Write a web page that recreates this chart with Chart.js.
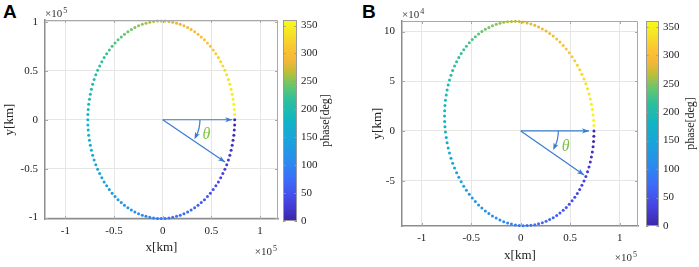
<!DOCTYPE html>
<html>
<head>
<meta charset="utf-8">
<script src="https://cdn.jsdelivr.net/npm/chart.js@4.4.0/dist/chart.umd.min.js"></script>
<style>
  body { margin: 0; background: #fff; }
  #wrap { position: relative; width: 699px; height: 267px; overflow: hidden; background: #fff; }
  canvas { position: absolute; top: 0; }
  .tag { position: absolute; font: bold 19px "Liberation Sans", Arial, sans-serif; color: #000; }
</style>
</head>
<body>
<div id="wrap">
  <div class="tag" style="left:3px;top:1px">A</div>
  <div class="tag" style="left:362px;top:1px">B</div>
  <canvas id="orbitA" width="282" height="267" style="left:0"></canvas>
  <canvas id="barA" width="60" height="267" style="left:283px"></canvas>
  <canvas id="orbitB" width="292" height="267" style="left:350px"></canvas>
  <canvas id="barB" width="53" height="267" style="left:646px"></canvas>
</div>
<script>
// phase of every sample, deg
const phaseDeg = [
  0, 3, 6, 9, 12, 15, 18, 21, 24, 27, 30, 33, 36, 39, 42, 45, 48, 51, 54, 57,
  60, 63, 66, 69, 72, 75, 78, 81, 84, 87, 90, 93, 96, 99, 102, 105, 108, 111, 114, 117,
  120, 123, 126, 129, 132, 135, 138, 141, 144, 147, 150, 153, 156, 159, 162, 165, 168, 171, 174, 177,
  180, 183, 186, 189, 192, 195, 198, 201, 204, 207, 210, 213, 216, 219, 222, 225, 228, 231, 234, 237,
  240, 243, 246, 249, 252, 255, 258, 261, 264, 267, 270, 273, 276, 279, 282, 285, 288, 291, 294, 297,
  300, 303, 306, 309, 312, 315, 318, 321, 324, 327, 330, 333, 336, 339, 342, 345, 348, 351, 354, 357
];

// x position (x 1e5 km), same read for both panels
const xOrbit = [
  .740, .739, .736, .731, .723, .714, .703, .690, .675, .658,
  .639, .618, .596, .572, .546, .519, .490, .460, .429, .396,
  .363, .328, .292, .256, .218, .180, .142, .103, .064, .024,
  -.015, -.054, -.094, -.133, -.172, -.210, -.248, -.286, -.322, -.358,
  -.393, -.426, -.459, -.490, -.520, -.549, -.576, -.602, -.626, -.648,
  -.669, -.688, -.705, -.720, -.733, -.744, -.753, -.761, -.766, -.769,
  -.770, -.769, -.766, -.761, -.753, -.744, -.733, -.720, -.705, -.688,
  -.669, -.648, -.626, -.602, -.576, -.549, -.520, -.490, -.459, -.426,
  -.393, -.358, -.322, -.286, -.248, -.210, -.172, -.133, -.094, -.054,
  -.015, .024, .064, .103, .142, .180, .218, .256, .292, .328,
  .363, .396, .429, .460, .490, .519, .546, .572, .596, .618,
  .639, .658, .675, .690, .703, .714, .723, .731, .736, .739
];

// panel A: y (x 1e5 km)
const yOrbitA = [
  0, -.053, -.106, -.158, -.210, -.261, -.312, -.362, -.411, -.459,
  -.505, -.550, -.594, -.636, -.676, -.714, -.751, -.785, -.817, -.847,
  -.875, -.900, -.923, -.943, -.961, -.976, -.988, -.998, -1.004, -1.009,
  -1.010, -1.009, -1.004, -.998, -.988, -.976, -.961, -.943, -.923, -.900,
  -.875, -.847, -.817, -.785, -.751, -.714, -.676, -.636, -.594, -.550,
  -.505, -.459, -.411, -.362, -.312, -.261, -.210, -.158, -.106, -.053,
  0, .053, .106, .158, .210, .261, .312, .362, .411, .459,
  .505, .550, .594, .636, .676, .714, .751, .785, .817, .847,
  .875, .900, .923, .943, .961, .976, .988, .998, 1.004, 1.009,
  1.010, 1.009, 1.004, .998, .988, .976, .961, .943, .923, .900,
  .875, .847, .817, .785, .751, .714, .676, .636, .594, .550,
  .505, .459, .411, .362, .312, .261, .210, .158, .106, .053
];

// panel B: y (x 1e4 km)
const yOrbitB = [
  0, -.535, -1.067, -1.594, -2.115, -2.627, -3.130, -3.624, -4.104, -4.572,
  -5.024, -5.461, -5.882, -6.283, -6.666, -7.028, -7.369, -7.687, -7.983, -8.255,
  -8.502, -8.723, -8.918, -9.088, -9.231, -9.345, -9.432, -9.491, -9.522, -9.525,
  -9.500, -9.447, -9.366, -9.257, -9.120, -8.957, -8.767, -8.550, -8.308, -8.042,
  -7.752, -7.439, -7.101, -6.743, -6.365, -5.968, -5.552, -5.117, -4.668, -4.203,
  -3.725, -3.236, -2.734, -2.224, -1.704, -1.179, -.647, -.112, .425, .963,
  1.500, 2.035, 2.567, 3.094, 3.615, 4.127, 4.630, 5.124, 5.604, 6.072,
  6.524, 6.961, 7.382, 7.783, 8.166, 8.528, 8.869, 9.187, 9.483, 9.755,
  10.002, 10.223, 10.418, 10.588, 10.731, 10.845, 10.932, 10.991, 11.022, 11.025,
  11.000, 10.947, 10.866, 10.757, 10.620, 10.457, 10.267, 10.050, 9.808, 9.542,
  9.252, 8.939, 8.601, 8.243, 7.865, 7.468, 7.052, 6.617, 6.168, 5.703,
  5.225, 4.736, 4.234, 3.724, 3.204, 2.679, 2.147, 1.612, 1.075, .537
];

const xTicks = [-1, -0.5, 0, 0.5, 1];
const yTicksA = [-1, -0.5, 0, 0.5, 1];
const yTicksB = [-5, 0, 5, 10];
const phaseTicks = [0, 50, 100, 150, 200, 250, 300, 350];
const phaseRange = [0, 360];

// arrows [x0, y0, x1, y1], theta arc [start, end] and label, in axis units
const arrowsA = [[0, 0, 0.715, 0], [0, 0, 0.64, -0.433]];
const arcA = [[0.383, 0], [0.315, -0.193]];
const thetaA = [0.45, -0.152];
const arrowsB = [[0, 0, 0.69, 0], [0, 0, 0.64, -4.43]];
const arcB = [[0.38, 0], [0.33, -1.93]];
const thetaB = [0.455, -1.6];

const serif = '"Liberation Serif", "Times New Roman", serif';
const parulaStops = [
  [0.00, [62, 38, 168]],
  [0.10, [70, 69, 228]],
  [0.20, [62, 106, 250]],
  [0.30, [42, 140, 238]],
  [0.40, [26, 163, 220]],
  [0.50, [17, 180, 196]],
  [0.60, [44, 192, 157]],
  [0.68, [110, 198, 105]],
  [0.74, [190, 190, 55]],
  [0.80, [245, 183, 55]],
  [0.86, [250, 196, 50]],
  [0.92, [245, 222, 40]],
  [1.00, [249, 251, 21]]
];

function parula(t) {
  t = Math.max(0, Math.min(1, t));
  for (let i = 1; i < parulaStops.length; i++) {
    const [t1, c1] = parulaStops[i];
    if (t <= t1) {
      const [t0, c0] = parulaStops[i - 1];
      const f = (t - t0) / (t1 - t0);
      return 'rgb(' + [0, 1, 2].map(k => Math.round(c0[k] + (c1[k] - c0[k]) * f)).join(',') + ')';
    }
  }
  return 'rgb(249,251,21)';
}

function arrowHead(ctx, x0, y0, x1, y1) {
  const a = Math.atan2(y1 - y0, x1 - x0), len = 7, half = 2.6;
  const c = Math.cos(a), s = Math.sin(a);
  ctx.beginPath();
  ctx.moveTo(x1, y1);
  ctx.lineTo(x1 - len * c + half * s, y1 - len * s - half * c);
  ctx.lineTo(x1 - len * 0.75 * c, y1 - len * 0.75 * s);
  ctx.lineTo(x1 - len * c - half * s, y1 - len * s + half * c);
  ctx.closePath();
  ctx.fill();
}

function sciLabel(ctx, x, base, exp, align) {
  ctx.font = '11px ' + serif;
  const w1 = ctx.measureText('×10').width;
  ctx.font = '8px ' + serif;
  const w2 = ctx.measureText(exp).width;
  const left = align === 'right' ? x - w1 - w2 - 1 : x;
  ctx.fillStyle = '#333';
  ctx.textAlign = 'left';
  ctx.textBaseline = 'alphabetic';
  ctx.font = '11px ' + serif;
  ctx.fillText('×10', left, base);
  ctx.font = '8px ' + serif;
  ctx.fillText(exp, left + w1 + 1, base - 4.5);
}

const orbitDecor = {
  id: 'orbitDecor',
  afterDatasetsDraw(chart, args, o) {
    const { ctx, chartArea: a, scales: { x, y } } = chart;
    ctx.save();
    // top / right edges of the box and inner tick marks
    ctx.strokeStyle = '#a8a8a8';
    ctx.lineWidth = 1;
    ctx.beginPath();
    ctx.moveTo(a.left, a.top + 0.5); ctx.lineTo(a.right - 0.5, a.top + 0.5); ctx.lineTo(a.right - 0.5, a.bottom);
    xTicks.forEach(v => {
      const px = Math.round(x.getPixelForValue(v)) + 0.5;
      ctx.moveTo(px, a.bottom); ctx.lineTo(px, a.bottom - 3);
      ctx.moveTo(px, a.top); ctx.lineTo(px, a.top + 3);
    });
    o.yTicks.forEach(v => {
      const py = Math.round(y.getPixelForValue(v)) + 0.5;
      ctx.moveTo(a.left, py); ctx.lineTo(a.left + 3, py);
      ctx.moveTo(a.right, py); ctx.lineTo(a.right - 3, py);
    });
    ctx.stroke();

    // arrows
    ctx.strokeStyle = ctx.fillStyle = '#3a7bd0';
    ctx.lineWidth = 1.2;
    o.arrows.forEach(([x0, y0, x1, y1]) => {
      const p0 = [x.getPixelForValue(x0), y.getPixelForValue(y0)];
      const p1 = [x.getPixelForValue(x1), y.getPixelForValue(y1)];
      ctx.beginPath(); ctx.moveTo(p0[0], p0[1]); ctx.lineTo(p1[0], p1[1]); ctx.stroke();
      arrowHead(ctx, p0[0], p0[1], p1[0], p1[1]);
    });
    const cx = x.getPixelForValue(0), cy = y.getPixelForValue(0);
    const sx = x.getPixelForValue(o.arc[0][0]), sy = y.getPixelForValue(o.arc[0][1]);
    const ex = x.getPixelForValue(o.arc[1][0]), ey = y.getPixelForValue(o.arc[1][1]);
    const r = Math.hypot(sx - cx, sy - cy);
    const a0 = Math.atan2(sy - cy, sx - cx), a1 = Math.atan2(ey - cy, ex - cx);
    const tx = cx + r * Math.cos(a1), ty = cy + r * Math.sin(a1);
    ctx.beginPath(); ctx.arc(cx, cy, r, a0, a1 - 0.08); ctx.stroke();
    arrowHead(ctx, cx + r * Math.cos(a1 - 0.2), cy + r * Math.sin(a1 - 0.2), tx, ty);

    ctx.fillStyle = '#7cc242';
    ctx.font = 'italic 16px ' + serif;
    ctx.textAlign = 'center';
    ctx.textBaseline = 'middle';
    ctx.fillText('θ', x.getPixelForValue(o.theta[0]), y.getPixelForValue(o.theta[1]));

    sciLabel(ctx, a.left, a.top - 3, o.yExp, 'left');
    sciLabel(ctx, a.right - 1, a.bottom + o.xExpDy, '5', 'right');
    ctx.restore();
  }
};

const barDecor = {
  id: 'barDecor',
  afterDatasetsDraw(chart, args, o) {
    const { ctx, chartArea: a, scales: { y } } = chart;
    ctx.save();
    ctx.strokeStyle = '#9a9a9a';
    ctx.lineWidth = 1;
    ctx.strokeRect(a.left + 0.5, a.top + 0.5, a.right - a.left - 1, a.bottom - a.top - 1);
    ctx.beginPath();
    phaseTicks.forEach(v => {
      const py = Math.round(y.getPixelForValue(v)) + 0.5;
      ctx.moveTo(a.right, py); ctx.lineTo(a.right - 2.5, py);
      ctx.moveTo(a.left, py); ctx.lineTo(a.left + 2.5, py);
    });
    ctx.stroke();
    ctx.translate(a.right + o.labelDx, (a.top + a.bottom) / 2);
    ctx.rotate(-Math.PI / 2);
    ctx.fillStyle = '#222';
    ctx.font = '12px ' + serif;
    ctx.textAlign = 'center';
    ctx.textBaseline = 'middle';
    ctx.fillText('phase[deg]', 0, 0);
    ctx.restore();
  }
};

function orbitChart(id, ys, yTicks, yMin, yMax, xMin, xMax, box) {
  return new Chart(id, {
    type: 'scatter',
    data: {
      datasets: [{
        data: xOrbit.map((v, i) => ({ x: v, y: ys[i] })),
        pointBackgroundColor: phaseDeg.map(p => parula(p / phaseRange[1])),
        pointBorderWidth: 0,
        pointRadius: 1.5,
        clip: false
      }]
    },
    options: {
      responsive: false,
      animation: false,
      events: [],
      layout: { padding: { left: 0, top: box.top, right: box.right, bottom: 0 } },
      plugins: {
        legend: { display: false },
        tooltip: { enabled: false },
        orbitDecor: box.decor
      },
      scales: {
        x: {
          type: 'linear', min: xMin, max: xMax,
          afterBuildTicks: s => { s.ticks = xTicks.map(v => ({ value: v })); },
          afterFit: s => { s.height = box.xH; },
          grid: { color: '#e6e6e6', drawTicks: false },
          border: { color: '#8c8c8c', width: 1.5 },
          ticks: { padding: 6, color: '#222', font: { family: serif, size: 11 }, maxRotation: 0, autoSkip: false, callback: v => String(v) },
          title: { display: true, text: 'x[km]', color: '#222', font: { family: serif, size: 13 }, padding: { top: 0, bottom: box.xTitlePad } }
        },
        y: {
          type: 'linear', min: yMin, max: yMax,
          afterBuildTicks: s => { s.ticks = yTicks.map(v => ({ value: v })); },
          afterFit: s => { s.width = box.yW; },
          grid: { color: '#e6e6e6', drawTicks: false },
          border: { color: '#8c8c8c', width: 1.5 },
          ticks: { padding: 7, color: '#222', font: { family: serif, size: 11 }, autoSkip: false, callback: v => String(v) },
          title: { display: true, text: 'y[km]', color: '#222', font: { family: serif, size: 13 }, padding: { top: box.yTitlePad, bottom: 0 } }
        }
      }
    },
    plugins: [orbitDecor]
  });
}

function colorBar(id, box) {
  return new Chart(id, {
    type: 'bar',
    data: {
      labels: ['phase'],
      datasets: [{
        data: [phaseRange],
        backgroundColor: c => {
          const a = c.chart.chartArea;
          if (!a) return null;
          const g = c.chart.ctx.createLinearGradient(0, a.bottom, 0, a.top);
          parulaStops.forEach(([t, rgb]) => g.addColorStop(t, 'rgb(' + rgb.join(',') + ')'));
          return g;
        },
        borderWidth: 0,
        barPercentage: 1,
        categoryPercentage: 1
      }]
    },
    options: {
      responsive: false,
      animation: false,
      events: [],
      layout: { padding: { left: 0, right: 0, top: box.top, bottom: box.bottom } },
      plugins: { legend: { display: false }, tooltip: { enabled: false }, barDecor: { labelDx: box.labelDx } },
      scales: {
        x: { display: false },
        y: {
          position: 'right', min: phaseRange[0], max: phaseRange[1],
          afterBuildTicks: s => { s.ticks = phaseTicks.map(v => ({ value: v })); },
          afterFit: s => { s.width = box.yW; },
          grid: { display: false, drawTicks: false },
          border: { display: false },
          ticks: { padding: 4, color: '#222', font: { family: serif, size: 11 }, autoSkip: false, callback: v => String(v) }
        }
      }
    },
    plugins: [barDecor]
  });
}

orbitChart('orbitA', yOrbitA, yTicksA, -1.015, 1.02, -1.21, 1.185, {
  top: 20, right: 4, xH: 48, yW: 45, xTitlePad: 12, yTitlePad: 2,
  decor: { arrows: arrowsA, arc: arcA, theta: thetaA, yTicks: yTicksA, yExp: '5', xExpDy: 36 }
});
colorBar('barA', { top: 20, bottom: 46, yW: 46, labelDx: 29 });

orbitChart('orbitB', yOrbitB, yTicksB, -9.56, 11.06, -1.2, 1.185, {
  top: 21, right: 3, xH: 41, yW: 52, xTitlePad: 4, yTitlePad: 20,
  decor: { arrows: arrowsB, arc: arcB, theta: thetaB, yTicks: yTicksB, yExp: '4', xExpDy: 35 }
});
colorBar('barB', { top: 21, bottom: 41, yW: 40, labelDx: 32 });
</script>
</body>
</html>
